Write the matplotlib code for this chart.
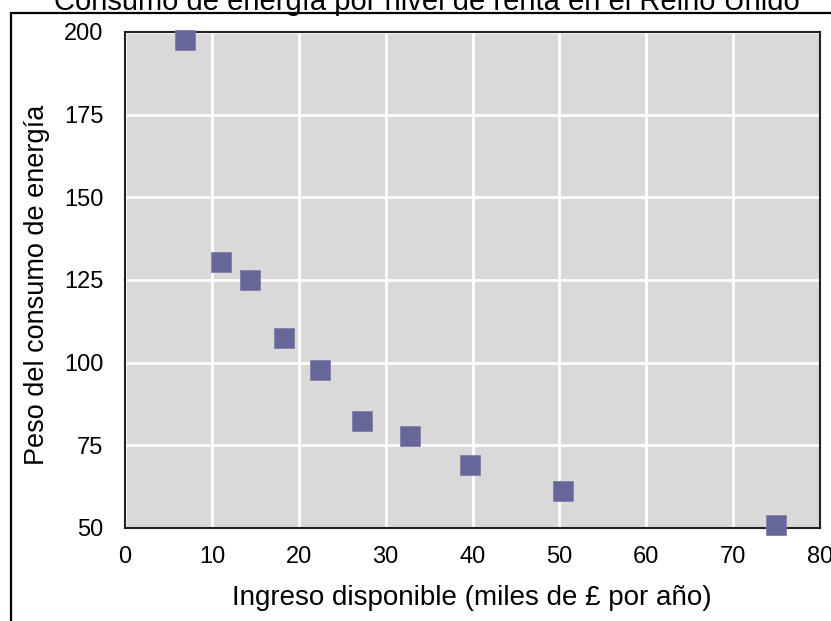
import matplotlib
matplotlib.use("Agg")
import matplotlib.pyplot as plt
from matplotlib.patches import Rectangle

plt.rcParams['font.family'] = ['Liberation Sans', 'DejaVu Sans']

title = "Consumo de energía por nivel de renta en el Reino Unido"
xlabel = "Ingreso disponible (miles de £ por año)"
ylabel = "Peso del consumo de energía"

income = [6.9, 11.0, 14.4, 18.3, 22.4, 27.3, 32.8, 39.7, 50.4, 74.9]
energy = [197.6, 130.5, 125.0, 107.5, 97.8, 82.4, 77.8, 69.0, 61.2, 51.0]

xticks = [0, 10, 20, 30, 40, 50, 60, 70, 80]
yticks = [50, 75, 100, 125, 150, 175, 200]

W, H = 831, 621
fig = plt.figure(figsize=(W / 100, H / 100), dpi=100)
fig.patch.set_facecolor('white')

# outer frame (cut by right and bottom edges)
fig.patches.append(Rectangle((11 / W, -0.05), 1.2, (H - 13) / H + 0.05,
                             transform=fig.transFigure, fill=False,
                             edgecolor='black', linewidth=1.6))

left, right, top, bottom = 125, 820, 32, 528
ax = fig.add_axes([left / W, 1 - bottom / H, (right - left) / W, (bottom - top) / H])
ax.set_facecolor('#d9d9d9')
ax.set_xlim(0, 80)
ax.set_ylim(50, 200)
ax.set_xticks(xticks)
ax.set_yticks(yticks)
ax.grid(True, color='white', linewidth=2)
ax.set_axisbelow(True)
for s in ax.spines.values():
    s.set_color('#222222')
    s.set_linewidth(1.5)
ax.tick_params(length=0, labelsize=17, colors='black')
ax.tick_params(axis='y', pad=15.5)
ax.tick_params(axis='x', pad=13)

ax.plot(income, energy, linestyle='none', marker='s', markersize=13.7,
        markerfacecolor='#666699', markeredgecolor='#8080aa',
        markeredgewidth=0.6, clip_on=False, zorder=5)

fig.text(472 / W, 1 - 598 / H, xlabel, fontsize=20, ha='center', va='center')
fig.text(37 / W, 1 - 285 / H, ylabel, rotation=90, fontsize=19.5,
         ha='center', va='center')
fig.text(427 / W, 1 - 10 / H, title, fontsize=21, ha='center', va='baseline')

fig.savefig('out.png', dpi=100)
